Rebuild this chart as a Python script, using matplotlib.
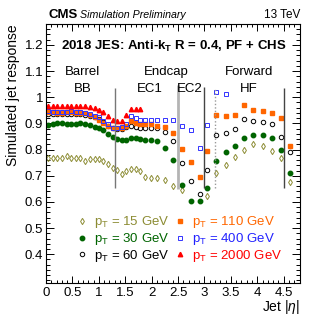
import numpy as np
import matplotlib
matplotlib.use("Agg")
import matplotlib.pyplot as plt
from matplotlib.ticker import MultipleLocator

plt.rcParams['font.family'] = ['Liberation Sans', 'DejaVu Sans']
plt.rcParams['mathtext.fontset'] = 'custom'
plt.rcParams['mathtext.rm'] = 'Liberation Sans'
plt.rcParams['mathtext.it'] = 'Liberation Sans:italic'
plt.rcParams['mathtext.bf'] = 'Liberation Sans:bold'

# eta bin centres
eta = [0.0435, 0.1305, 0.2175, 0.3045, 0.3915, 0.4785, 0.5655, 0.6525, 0.7395, 0.831,
       0.918, 1.0005, 1.0875, 1.1745, 1.2615, 1.3485, 1.4355, 1.5225, 1.6095, 1.6965,
       1.785, 1.88, 1.9865, 2.1075, 2.247, 2.411, 2.575, 2.7515, 2.9085, 3.0515,
       3.2265, 3.4015, 3.5765, 3.7515, 3.926, 4.102, 4.277, 4.4505, 4.627]
nan = np.nan
resp15 = [0.766, 0.766, 0.766, 0.768, 0.776, 0.768, 0.767, 0.767, 0.757, 0.763,
          0.763, 0.763, 0.757, 0.744, 0.731, 0.723, 0.706, 0.72, 0.724, 0.724,
          0.72, 0.695, 0.693, 0.693, 0.682, 0.66, 0.646, nan, nan, 0.624,
          0.712, 0.742, 0.77, 0.80, 0.823, 0.814, 0.795, 0.766, 0.677]
resp30 = [0.895, 0.898, 0.9, 0.9, 0.898, 0.897, 0.898, 0.9, 0.897, 0.893,
          0.888, 0.882, 0.876, 0.86, 0.847, 0.839, 0.836, 0.836, 0.843, 0.846,
          0.84, 0.836, 0.836, 0.834, 0.805, 0.762, 0.664, 0.605, 0.605, 0.655,
          0.757, 0.789, 0.814, 0.846, 0.856, 0.854, 0.843, 0.797, 0.71]
resp60 = [0.937, 0.937, 0.937, 0.937, 0.937, 0.937, 0.936, 0.935, 0.933, 0.93,
          0.925, 0.918, 0.905, 0.892, 0.882, 0.88, 0.88, 0.886, 0.89, 0.886,
          0.884, 0.884, 0.884, 0.883, 0.867, 0.832, 0.748, 0.68, 0.629, 0.721,
          0.854, 0.865, 0.877, 0.918, 0.91, 0.905, 0.896, 0.849, 0.789]
resp110 = [0.942, 0.942, 0.941, 0.941, 0.942, 0.942, 0.941, 0.94, 0.938, 0.934,
           0.924, 0.915, 0.903, 0.89, 0.884, 0.884, 0.884, 0.89, 0.909, 0.903,
           0.899, 0.896, 0.896, 0.89, 0.887, 0.865, 0.804, 0.753, 0.697, 0.795,
           0.933, 0.928, 0.934, 0.97, 0.95, 0.947, 0.941, 0.922, 0.814]
resp400 = [0.946, 0.945, 0.945, 0.944, 0.945, 0.946, 0.945, 0.943, 0.94, 0.936,
           0.928, 0.924, 0.911, 0.899, 0.884, 0.882, 0.886, 0.899, 0.928, 0.919,
           0.915, 0.915, 0.915, 0.914, 0.913, 0.913, 0.892, 0.873, 0.806, 0.894,
           1.019, 1.014]
resp2000 = [0.966, 0.967, 0.966, 0.966, 0.967, 0.966, 0.967, 0.966, 0.965, 0.963,
            0.96, 0.952, 0.943, 0.93, 0.914, 0.91, 0.91, 0.933, 0.956, 0.957,
            0.956]

fig = plt.figure(figsize=(3.16, 3.16), dpi=100)
ax = fig.add_axes([0.1456, 0.1044, 0.8024, 0.8196])

ms = 3.2
h15, = ax.plot(eta, resp15, ls='none', marker='d', ms=3.2, mfc='none', mec='#8c8c33', mew=0.7)
h30, = ax.plot(eta, resp30, ls='none', marker='o', ms=ms, color='#006400', mec='#006400')
h60, = ax.plot(eta, resp60, ls='none', marker='o', ms=ms, mfc='none', mec='black', mew=0.7)
h110, = ax.plot(eta, resp110, ls='none', marker='s', ms=ms, color='#ff6600', mec='#ff6600')
h400, = ax.plot(eta[:len(resp400)], resp400, ls='none', marker='s', ms=ms + 0.3, mfc='none', mec='#3333ff', mew=0.7)
h2000, = ax.plot(eta[:len(resp2000)], resp2000, ls='none', marker='^', ms=ms, color='#ff0000', mec='#ff0000')

# detector region boundaries
ax.vlines(1.3, 0.655, 1.036, color='#777777', lw=1)
ax.vlines(2.5, 0.65, 1.048, color='#b4b4b4', lw=2)
ax.vlines(3.0, 0.655, 1.04, color='#444444', lw=1)
ax.vlines(3.2, 0.655, 1.03, color='#999999', lw=1, linestyles=(0, (1, 1.5)))
ax.vlines(4.5, 0.655, 1.036, color='#444444', lw=1)

ax.set_xlim(0, 4.8)
ax.set_ylim(0.29, 1.28)
ax.xaxis.set_major_locator(MultipleLocator(0.5))
ax.xaxis.set_minor_locator(MultipleLocator(0.1))
ax.yaxis.set_major_locator(MultipleLocator(0.1))
ax.yaxis.set_minor_locator(MultipleLocator(0.02))
ax.set_xticks(np.arange(0, 4.51, 0.5))
ax.set_xticklabels(['0', '0.5', '1', '1.5', '2', '2.5', '3', '3.5', '4', '4.5'])
ax.set_yticks([0.4, 0.5, 0.6, 0.7, 0.8, 0.9, 1.0, 1.1, 1.2])
ax.set_yticklabels(['0.4', '0.5', '0.6', '0.7', '0.8', '0.9', '1', '1.1', '1.2'])
ax.tick_params(which='both', direction='in', top=True, right=True, labelsize=9.5, width=0.7)
ax.tick_params(axis='x', which='major', length=5, pad=3)
ax.tick_params(axis='x', which='minor', length=2.5)
ax.tick_params(axis='y', which='major', length=6, pad=2)
ax.tick_params(axis='y', which='minor', length=3)
for s in ax.spines.values():
    s.set_linewidth(0.8)

ax.set_ylabel('Simulated jet response', fontsize=10, loc='top', labelpad=3)
ax.set_xlabel(r'Jet |$\eta$|', fontsize=10, loc='right', labelpad=-1)

ax.text(2.41, 1.196, r'2018 JES: Anti-k$_{\mathbf{T}}$ R = 0.4, PF + CHS', ha='center', va='center',
        fontsize=9.5, fontweight='bold')
for x, y, t in [(0.70, 1.095, 'Barrel'), (0.70, 1.033, 'BB'), (2.28, 1.095, 'Endcap'),
                (1.96, 1.033, 'EC1'), (2.73, 1.033, 'EC2'), (3.84, 1.095, 'Forward'),
                (3.84, 1.033, 'HF')]:
    ax.text(x, y, t, ha='center', va='center', fontsize=9.5)

fig.text(0.152, 0.952, 'CMS', fontsize=9.5, fontweight='bold', va='center')
fig.text(0.252, 0.952, 'Simulation Preliminary', fontsize=7.7, style='italic', va='center')
fig.text(0.952, 0.952, '13 TeV', fontsize=8.5, ha='right', va='center')

labels = [r'p$_{\rm T}$ = 15 GeV', r'p$_{\rm T}$ = 30 GeV', r'p$_{\rm T}$ = 60 GeV',
          r'p$_{\rm T}$ = 110 GeV', r'p$_{\rm T}$ = 400 GeV', r'p$_{\rm T}$ = 2000 GeV']
ax.legend([h15, h30, h60, h110, h400, h2000], labels, ncol=2, frameon=False, fontsize=9.5,
          labelcolor=['#8c8c33', '#006400', 'black', '#ff6600', '#2222ff', '#ff0000'],
          loc='upper left', bbox_to_anchor=(0.1, 0.285), handlelength=0.8, handletextpad=0.5,
          columnspacing=0.4, labelspacing=0.05, borderaxespad=0)

fig.savefig('out.png', dpi=100)
